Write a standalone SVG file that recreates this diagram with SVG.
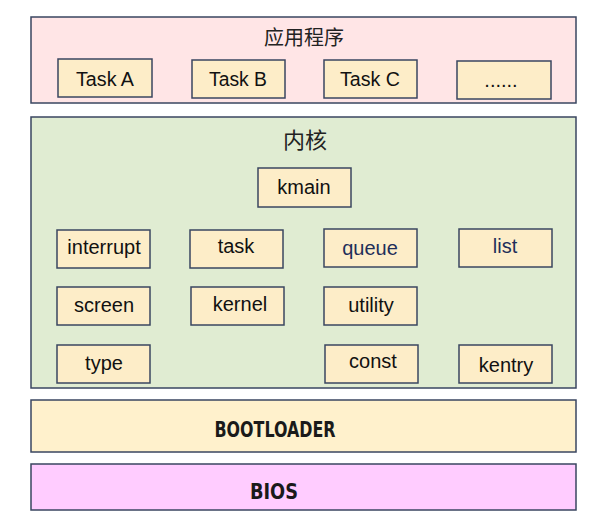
<svg xmlns="http://www.w3.org/2000/svg" width="611" height="522" viewBox="0 0 611 522">
<style>
.layer{stroke:#3a4660;stroke-width:1.5}
.node rect{fill:#fdedc8;stroke:#3a4660;stroke-width:1.5}
.node text{font-family:"Liberation Sans",Arial,sans-serif;font-size:20px;fill:#111;text-anchor:middle}
.node text.navy{fill:#1f2f5a}
.title{font-family:"Noto Sans CJK SC","Noto Sans",sans-serif;fill:#222;text-anchor:middle}
.big{font-family:"DejaVu Sans Condensed","DejaVu Sans",sans-serif;font-weight:bold;font-size:22px;fill:#1a1a1a;text-anchor:middle}
</style>
<rect width="611" height="522" fill="#ffffff"/>
<g id="app">
<rect class="layer" x="31" y="17" width="545" height="86" fill="#ffe5e6"/>
<text class="title" x="304" y="45" font-size="20">应用程序</text>
</g>
<g id="taskA" class="node"><rect x="58" y="59" width="94" height="38"/><text x="105" y="86" textLength="58" lengthAdjust="spacingAndGlyphs">Task A</text></g>
<g id="taskB" class="node"><rect x="192" y="60" width="93" height="38"/><text x="238" y="86" textLength="58" lengthAdjust="spacingAndGlyphs">Task B</text></g>
<g id="taskC" class="node"><rect x="324" y="60" width="93" height="38"/><text x="370" y="86" textLength="60" lengthAdjust="spacingAndGlyphs">Task C</text></g>
<g id="taskMore" class="node"><rect x="457" y="61" width="94" height="38"/><text x="501" y="87">......</text></g>
<g id="kernelLayer">
<rect class="layer" x="31" y="117" width="545" height="271" fill="#e0ecd2"/>
<text class="title" x="305" y="148" font-size="22">内核</text>
</g>
<g id="kmain" class="node"><rect x="258" y="168" width="93" height="39"/><text x="304" y="194">kmain</text></g>
<g id="interrupt" class="node"><rect x="57" y="230" width="93" height="38"/><text x="104" y="254">interrupt</text></g>
<g id="task" class="node"><rect x="190" y="230" width="93" height="38"/><text x="236" y="253">task</text></g>
<g id="queue" class="node"><rect x="324" y="229" width="93" height="38"/><text class="navy" x="370" y="255">queue</text></g>
<g id="list" class="node"><rect x="459" y="229" width="93" height="38"/><text class="navy" x="505" y="253">list</text></g>
<g id="screen" class="node"><rect x="57" y="287" width="93" height="38"/><text x="104" y="312">screen</text></g>
<g id="kernel" class="node"><rect x="191" y="287" width="93" height="38"/><text x="240" y="311">kernel</text></g>
<g id="utility" class="node"><rect x="324" y="287" width="93" height="38"/><text x="371" y="312">utility</text></g>
<g id="type" class="node"><rect x="57" y="345" width="93" height="38"/><text x="104" y="370">type</text></g>
<g id="const" class="node"><rect x="325" y="345" width="93" height="38"/><text x="373" y="368">const</text></g>
<g id="kentry" class="node"><rect x="459" y="345" width="93" height="38"/><text x="506" y="372">kentry</text></g>
<g id="bootloader">
<rect class="layer" x="31" y="400" width="545" height="52" fill="#fff1cc"/>
<text class="big" x="275" y="437" textLength="121" lengthAdjust="spacingAndGlyphs">BOOTLOADER</text>
</g>
<g id="bios">
<rect class="layer" x="31" y="464" width="545" height="46" fill="#ffccff"/>
<text class="big" x="274" y="499" textLength="48" lengthAdjust="spacingAndGlyphs">BIOS</text>
</g>
<g id="connectors"/>
</svg>
